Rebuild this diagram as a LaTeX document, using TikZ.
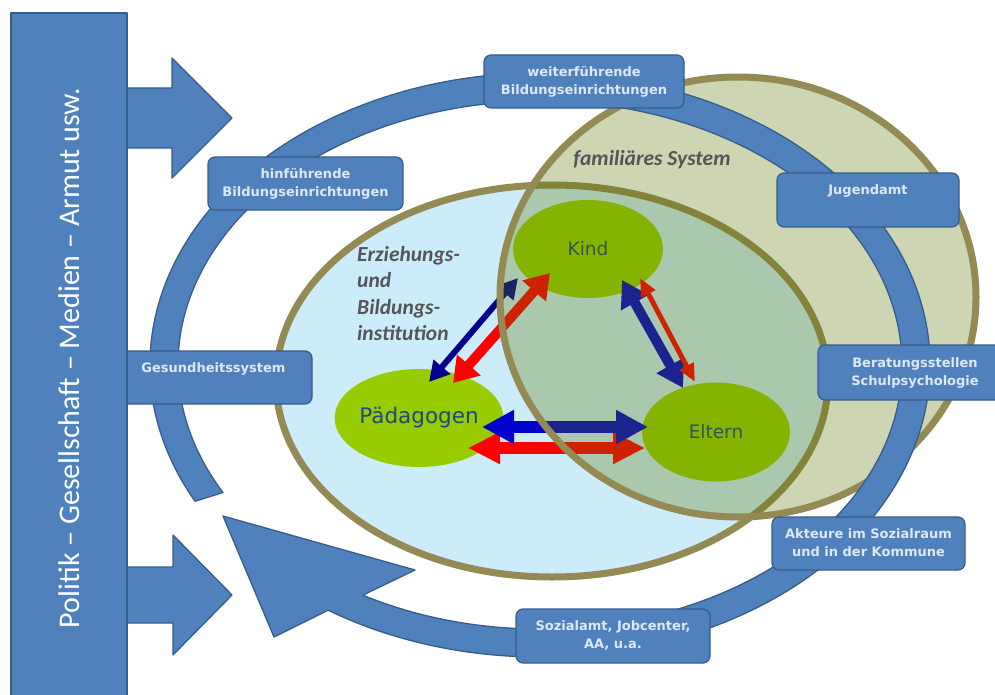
\documentclass[tikz,border=0pt]{standalone}
\usepackage{fontspec}
\usetikzlibrary{shapes.geometric,arrows.meta}
\newfontfamily\carlito{Carlito}
\newfontfamily\dejavu{DejaVu Sans}
\definecolor{boxblue}{RGB}{79,129,189}
\definecolor{boxborder}{RGB}{56,93,138}
\definecolor{boxtext}{RGB}{220,232,246}
\definecolor{bdrolive}{RGB}{148,138,84}
\definecolor{edublue}{RGB}{204,236,250}
\definecolor{famfill}{RGB}{92,118,0}
\definecolor{nodegreen}{RGB}{153,204,0}
\definecolor{nodetext}{RGB}{31,73,125}
\definecolor{arrnavy}{RGB}{0,0,140}
\definecolor{arrblue}{RGB}{0,0,204}
\definecolor{arrred}{RGB}{255,0,0}
\definecolor{labelgray}{RGB}{85,85,90}
\begin{document}
\begin{tikzpicture}[x=1pt,y=-1pt,
  bluefill/.style={fill=boxblue,draw=boxborder,line width=1.3pt,line join=round},
  infobox/.style={rectangle,rounded corners=7pt,fill=boxblue,draw=boxborder,line width=1.2pt,
     text=boxtext,font=\dejavu\bfseries\fontsize{13}{18}\selectfont,align=center,inner sep=0pt},
  actor/.style={ellipse,fill=nodegreen,text=nodetext,inner sep=0pt},
  region/.style={ellipse,line width=7pt,draw=bdrolive,inner sep=0pt},
  italiclabel/.style={text=labelgray,font=\carlito\bfseries\itshape\fontsize{21.5}{26.5}\selectfont,inner sep=0pt},
  navyarr/.style={draw=arrnavy,line width=6pt,{Triangle[length=20pt,width=21pt]}-{Triangle[length=20pt,width=21pt]}},
  redthick/.style={draw=arrred,line width=10pt,{Triangle[length=24pt,width=30pt]}-{Triangle[length=24pt,width=30pt]}},
  bluethick/.style={draw=arrblue,line width=10pt,{Triangle[length=26pt,width=30pt]}-{Triangle[length=26pt,width=30pt]}},
  redthin/.style={draw=arrred,line width=5pt,{Triangle[length=18pt,width=15pt]}-{Triangle[length=18pt,width=15pt]}},
  bluewide/.style={draw=arrblue,line width=12pt,{Triangle[length=32pt,width=32pt]}-{Triangle[length=32pt,width=32pt]}},
  redwide/.style={draw=arrred,line width=12pt,{Triangle[length=32pt,width=30pt]}-{Triangle[length=32pt,width=30pt]}}
]
\useasboundingbox (0,0) rectangle (995,695);
\fill[white] (0,0) rectangle (995,695);

% education institution region
\node[region,fill=edublue,minimum width=552pt,minimum height=392pt] (erz) at (552,381) {};

% actors
\node[actor,minimum width=148pt,minimum height=98pt,font=\dejavu\fontsize{21.5}{24}\selectfont] (paed) at (419,418) {Pädagogen};
\node[actor,minimum width=150pt,minimum height=98pt,font=\dejavu\fontsize{18.5}{22}\selectfont] (kind) at (588,249) {Kind};
\node[actor,minimum width=148pt,minimum height=99pt,font=\dejavu\fontsize{18.5}{22}\selectfont] (eltern) at (716,432) {Eltern};

% arrow end points
\coordinate (pk1) at (429,382); \coordinate (pk2) at (518,278);
\coordinate (pk3) at (453,383); \coordinate (pk4) at (550,273);
\coordinate (ke1) at (622,280); \coordinate (ke2) at (683,388);
\coordinate (ke3) at (640,278); \coordinate (ke4) at (695,382);
\coordinate (pe1) at (482,427); \coordinate (pe2) at (648,427);
\coordinate (pe3) at (468,448); \coordinate (pe4) at (645,448);

\draw[redthick] (pk3) -- (pk4);
\draw[navyarr] (pk1) -- (pk2);
\draw[bluethick] (ke1) -- (ke2);
\draw[redthin] (ke3) -- (ke4);
\draw[redwide] (pe3) -- (pe4);
\draw[bluewide] (pe1) -- (pe2);

% family system region (translucent)
\node[region,fill=famfill,fill opacity=0.3,draw opacity=1,minimum width=476pt,minimum height=440pt] (fam) at (738,297) {};

\node[italiclabel,align=left,anchor=north west] (erzlabel) at (357,246) {Erziehungs-\\und\\Bildungs-\\institution};
\node[italiclabel] (famlabel) at (652,160) {familiäres System};

% big circular arrow
\draw[bluefill] (195.0,501.2) arc[start angle=152.2,end angle=482.9,x radius=390,y radius=292]
  -- (274,637) -- (223,516) -- (415,570) -- (362.8,595.2)
  arc[start angle=479.3,end angle=151.1,x radius=362,y radius=264] -- cycle;

% block arrows from the bar
\draw[bluefill] (110,88) -- (172,88) -- (172,58) -- (232,118) -- (172,178) -- (172,148) -- (110,148) -- cycle;
\draw[bluefill] (110,567) -- (173,567) -- (173,535) -- (232,595) -- (173,655) -- (173,623) -- (110,623) -- cycle;

% boxes
\node[infobox,minimum width=197pt,minimum height=53pt] (gesund) at (213.5,377.5) {\strut Gesundheitssystem\\\strut};

% left bar
\draw[bluefill,line width=2pt] (11,13) rectangle (127,710);
\node[rotate=90,text=white,font=\carlito\fontsize{30}{34}\selectfont,inner sep=0pt] (bartext) at (69.5,358) {Politik – Gesellschaft – Medien – Armut usw.};

\node[infobox,minimum width=200pt,minimum height=53pt] (weiter) at (584,81.5) {\strut weiterführende\\\strut Bildungseinrichtungen};
\node[infobox,minimum width=195pt,minimum height=53pt] (hin) at (305.5,183.5) {\strut hinführende\\\strut Bildungseinrichtungen};
\node[infobox,minimum width=182pt,minimum height=54pt] (jugend) at (868,200) {\strut Jugendamt\\\strut};
\node[infobox,minimum width=194pt,minimum height=55pt] (berat) at (915,372.5) {\strut Beratungsstellen\\\strut Schulpsychologie};
\node[infobox,minimum width=193pt,minimum height=53pt] (akteure) at (868.5,543.5) {\strut Akteure im Sozialraum\\\strut und in der Kommune};
\node[infobox,minimum width=194pt,minimum height=54pt] (sozial) at (613,636) {\strut Sozialamt, Jobcenter,\\\strut AA, u.a.};
\end{tikzpicture}
\end{document}
